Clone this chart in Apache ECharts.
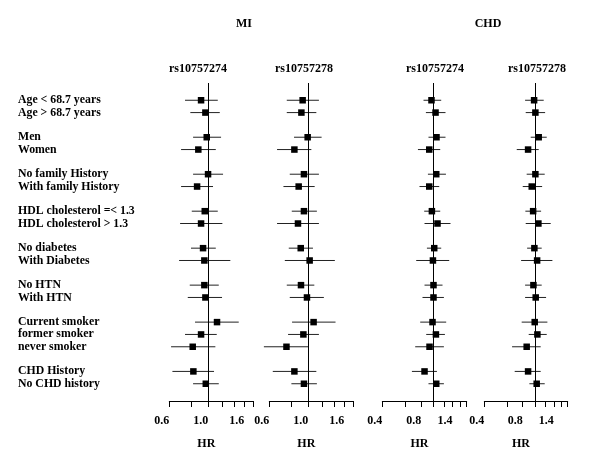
<!DOCTYPE html>
<html><head><meta charset="utf-8">
<script src="https://cdn.jsdelivr.net/npm/echarts@6/dist/echarts.min.js"></script>
<style>html,body{margin:0;padding:0;background:#fff}#c{width:600px;height:464px}</style>
</head><body><div id="c"></div>
<script>
// Row layout of the forest plot ('' = spacer between groups)
const rowLabels = ['Age < 68.7 years','Age > 68.7 years','',
  'Men','Women','',
  'No family History','With family History','',
  'HDL cholesterol =< 1.3','HDL cholesterol > 1.3','',
  'No diabetes','With Diabetes','',
  'No HTN','With HTN','',
  'Current smoker','former smoker','never smoker','',
  'CHD History','No CHD history'];
const subgroups = rowLabels.filter(s => s !== '');

const outcomes = ['MI', 'CHD'];
const snps = ['rs10757274', 'rs10757278', 'rs10757274', 'rs10757278'];

// MI, rs10757274
const mi274_hr = [0.909,0.962,0.979,0.877,0.996,0.863,0.954,0.909,0.933,0.949,0.949,0.962,1.120,0.909,0.815,0.822,0.967];
const mi274_lo = [0.737,0.790,0.819,0.700,0.819,0.700,0.805,0.691,0.797,0.682,0.784,0.764,0.840,0.737,0.614,0.625,0.819];
const mi274_hi = [1.131,1.161,1.181,1.102,1.212,1.063,1.131,1.201,1.102,1.333,1.146,1.196,1.488,1.116,1.096,1.077,1.146];
// MI, rs10757278
const mi278_hr = [0.928,0.913,0.991,0.833,0.944,0.881,0.944,0.873,0.905,1.017,0.908,0.982,1.071,0.937,0.751,0.833,0.944];
const mi278_lo = [0.754,0.754,0.829,0.664,0.784,0.722,0.805,0.664,0.774,0.735,0.754,0.784,0.808,0.767,0.559,0.628,0.801];
const mi278_hi = [1.148,1.110,1.189,1.040,1.148,1.086,1.118,1.148,1.062,1.414,1.081,1.225,1.427,1.148,1.000,1.110,1.118];
// CHD, rs10757274
const chd274_hr = [0.961,1.033,1.051,0.923,1.046,0.923,0.968,1.070,1.009,0.986,0.996,0.996,0.979,1.040,0.928,0.849,1.046];
const chd274_lo = [0.834,0.870,0.911,0.755,0.902,0.776,0.844,0.849,0.886,0.732,0.849,0.819,0.786,0.875,0.719,0.678,0.911];
const chd274_hi = [1.143,1.234,1.234,1.123,1.243,1.103,1.123,1.349,1.143,1.318,1.170,1.199,1.249,1.221,1.199,1.059,1.199];
// CHD, rs10757278
const chd278_hr = [0.982,1.005,1.067,0.881,1.005,0.941,0.965,1.061,0.987,1.037,0.970,1.011,0.993,1.042,0.859,0.881,1.029];
const chd278_lo = [0.835,0.844,0.924,0.718,0.859,0.800,0.839,0.844,0.866,0.777,0.835,0.835,0.785,0.891,0.660,0.692,0.902];
const chd278_hi = [1.168,1.198,1.233,1.067,1.189,1.135,1.114,1.325,1.126,1.366,1.126,1.219,1.248,1.233,1.106,1.106,1.189];

const miTicks = [0.6,0.8,1.0,1.2,1.4,1.6,1.8];
const miLabels = [0.6,1.0,1.6];
const chdTicks = [0.4,0.6,0.8,1.0,1.2,1.4,1.6,1.8];
const chdLabels = [0.4,0.8,1.4];

const panels = [
  {hr: mi274_hr, lo: mi274_lo, hi: mi274_hi, min: 0.6, max: 1.8, ticks: miTicks, labels: miLabels},
  {hr: mi278_hr, lo: mi278_lo, hi: mi278_hi, min: 0.6, max: 1.8, ticks: miTicks, labels: miLabels},
  {hr: chd274_hr, lo: chd274_lo, hi: chd274_hi, min: 0.4, max: 1.8, ticks: chdTicks, labels: chdLabels},
  {hr: chd278_hr, lo: chd278_lo, hi: chd278_hi, min: 0.4, max: 1.8, ticks: chdTicks, labels: chdLabels}
];

const FONT = '"Liberation Serif", "DejaVu Serif", serif';
const gridBoxes = [
  {left: 169.3, width: 84},
  {left: 269.3, width: 84},
  {left: 382.3, width: 84.4},
  {left: 484.3, width: 83.4}
];
const snpCenters = [198, 304, 435, 537];
const outcomeCenters = [244, 488];

const labelRows = rowLabels.map((s, i) => s === '' ? null : i).filter(v => v !== null);

const option = {
  animation: false,
  backgroundColor: '#fff',
  title: [].concat(
    outcomes.map((t, i) => ({text: t, left: outcomeCenters[i] - 5, top: 13, textAlign: 'center',
      textStyle: {fontFamily: FONT, fontSize: 12, fontWeight: 'bold', color: '#000'}})),
    snps.map((t, i) => ({text: t, left: snpCenters[i] - 5, top: 58, textAlign: 'center',
      textStyle: {fontFamily: FONT, fontSize: 12, fontWeight: 'bold', color: '#000'}}))
  ),
  grid: gridBoxes.map(g => ({left: g.left, width: g.width, top: 83, height: 318})),
  xAxis: panels.map((p, i) => ({
    type: 'log', gridIndex: i, min: p.min, max: p.max, position: 'bottom',
    axisLine: {show: true, onZero: false, lineStyle: {color: '#000', width: 1}},
    axisTick: {show: true, customValues: p.ticks, length: 6, lineStyle: {color: '#000'}},
    splitLine: {show: false}, minorTick: {show: false},
    axisLabel: {customValues: p.labels, formatter: v => Number(v).toFixed(1), align: 'right', margin: 14,
      fontFamily: FONT, fontSize: 12, fontWeight: 'bold', color: '#000'},
    name: 'HR', nameLocation: 'middle', nameGap: 37,
    nameTextStyle: {fontFamily: FONT, fontSize: 12, fontWeight: 'bold', color: '#000', padding: [0, 10, 0, 0]}
  })),
  yAxis: panels.map((p, i) => ({
    type: 'value', gridIndex: i, inverse: true, min: -1.4, max: 24.4,
    axisLine: {show: false, onZero: false}, axisTick: {show: false}, splitLine: {show: false},
    axisLabel: i === 0 ? {show: true, customValues: labelRows, formatter: v => rowLabels[Math.round(v)] || '',
      align: 'left', margin: 151.3, fontFamily: FONT, fontSize: 11.8, fontWeight: 'bold', color: '#000'} : {show: false}
  })),
  series: panels.map((p, i) => ({
    type: 'custom', xAxisIndex: i, yAxisIndex: i, clip: false,
    encode: {x: [0, 1, 2], y: 3},
    data: subgroups.map((s, k) => [p.hr[k], p.lo[k], p.hi[k], rowLabels.indexOf(s)]),
    renderItem: (params, api) => {
      const row = api.value(3);
      const c = api.coord([api.value(0), row]);
      const l = api.coord([api.value(1), row]);
      const h = api.coord([api.value(2), row]);
      const s = 6.5;
      return {type: 'group', children: [
        {type: 'line', shape: {x1: l[0], y1: c[1], x2: h[0], y2: c[1]}, style: {stroke: '#222', lineWidth: 1}},
        {type: 'rect', shape: {x: c[0] - s / 2, y: c[1] - s / 2, width: s, height: s}, style: {fill: '#000'}}
      ]};
    },
    markLine: {silent: true, symbol: 'none', label: {show: false},
      lineStyle: {color: '#000', width: 1, type: 'solid'}, data: [{xAxis: 1}]}
  }))
};

const chart = echarts.init(document.getElementById('c'), null, {renderer: 'canvas'});
chart.setOption(option);
</script>
</body></html>
